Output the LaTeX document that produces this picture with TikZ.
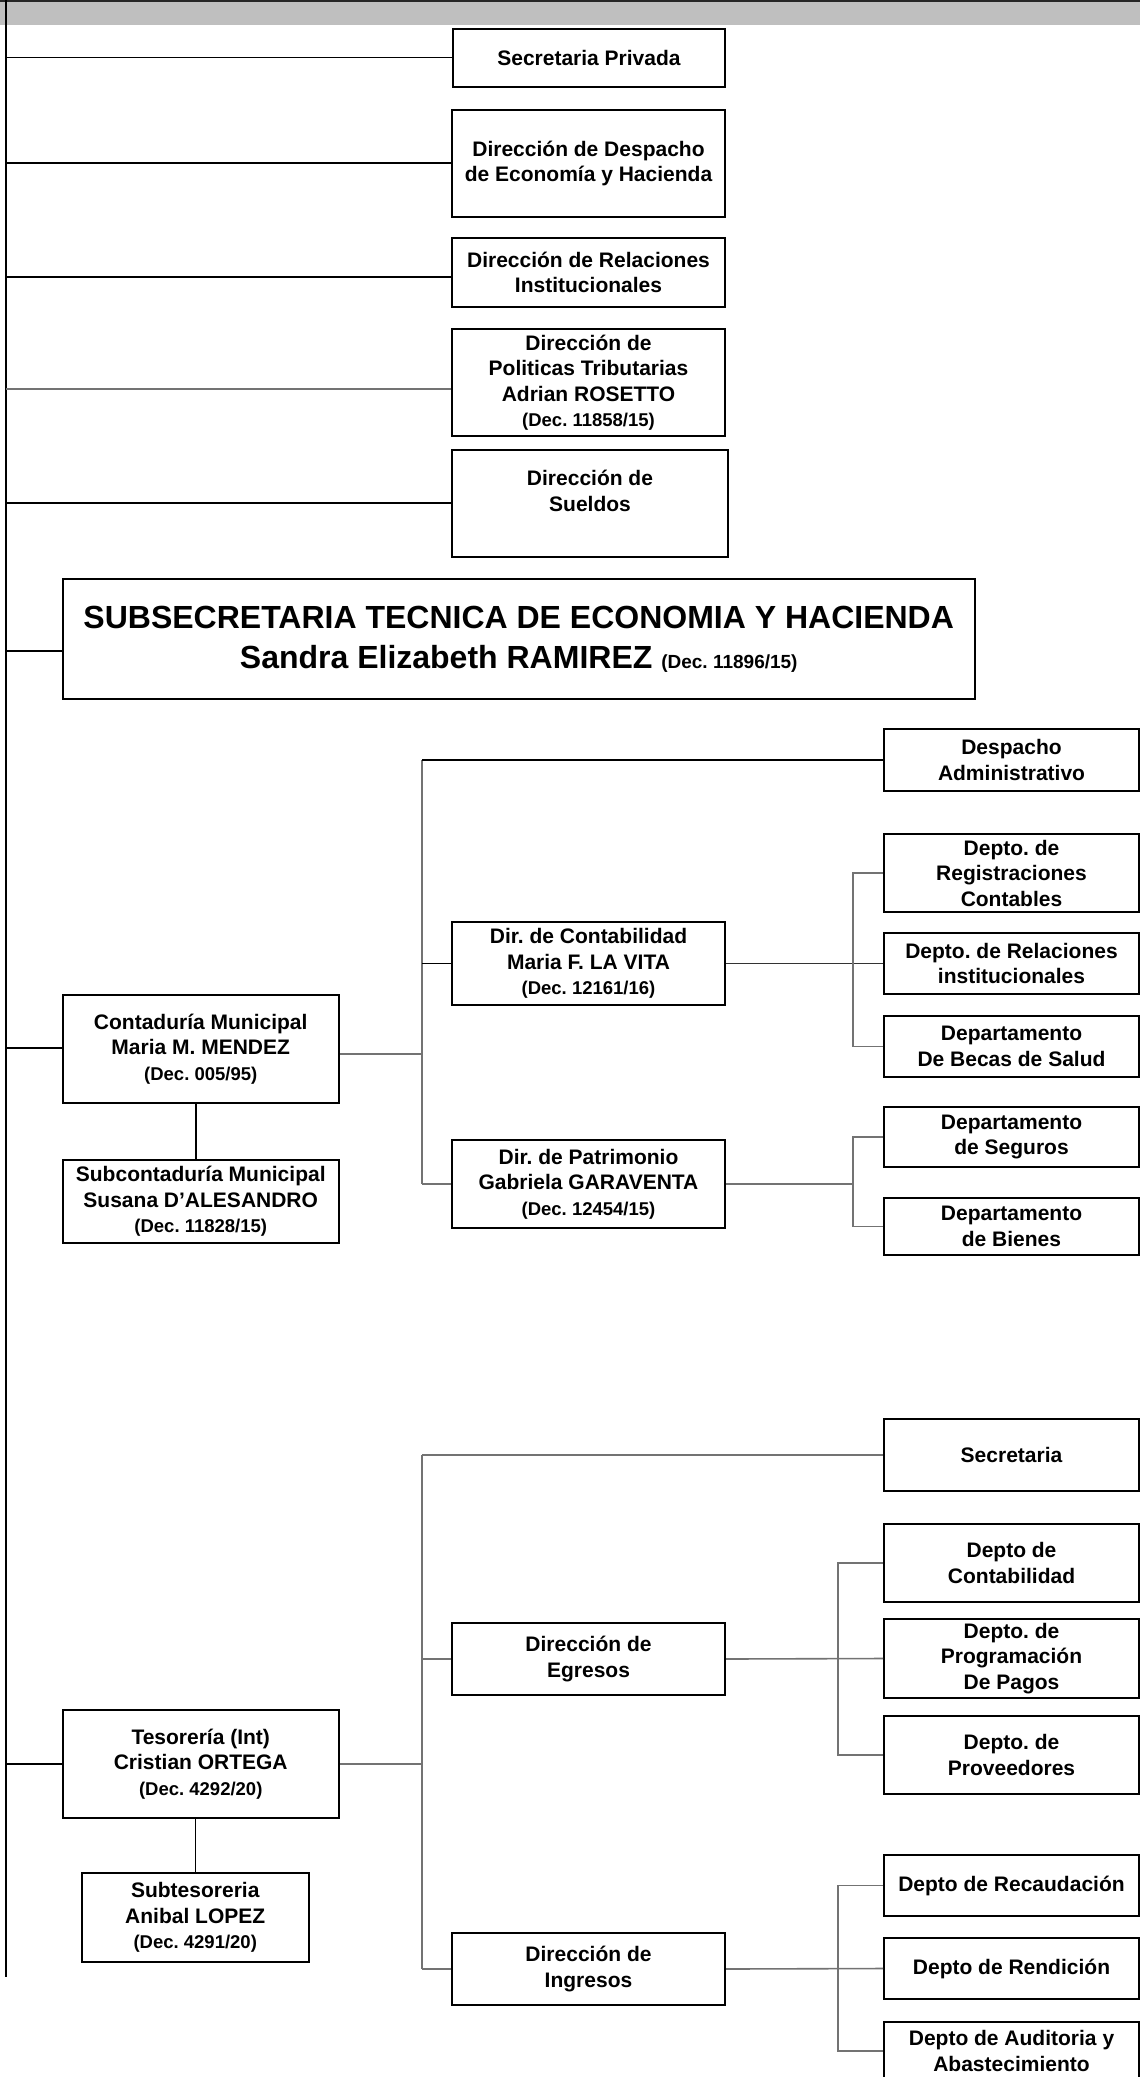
\documentclass[tikz,border=0pt]{standalone}
\usepackage{fontspec}
\setmainfont{Liberation Sans}
\frenchspacing
\newcommand\decr[1]{{\fontsize{18.5}{25.5}\selectfont #1}}
\tikzset{
  box/.style={draw=black, line width=2pt, fill=white, align=center, inner sep=0pt,
    font=\bfseries\fontsize{21}{25.5}\selectfont},
  conn/.style={line width=1.4pt, draw=black},
  gconn/.style={line width=1.6pt, draw=black!55},
}
\begin{document}
\begin{tikzpicture}[x=1pt, y=-1pt]
\clip (0,0) rectangle (1140,2077);
\fill[white] (0,0) rectangle (1140,2077);
% top bar
\fill[black!25] (0,0) rectangle (1140,25);
\draw[line width=2pt, black!85] (0,1) -- (1140,1);

% trunk
\coordinate (ttop) at (6.3,0);
\coordinate (tbot) at (6.3,1977);
\draw[conn, line width=1.7pt] (ttop) -- (tbot);

% top level boxes
\node[box, minimum width=272pt, minimum height=58pt] (sp) at (589,58) {Secretaria Privada};
\node[box, minimum width=273pt, minimum height=107pt] (ddesp) at (588.5,163.5) {Dirección de Despacho\\de Economía y Hacienda};
\node[box, minimum width=273pt, minimum height=69pt] (drelinst) at (588.5,272.5) {Dirección de Relaciones\\Institucionales};
\node[box, minimum width=273pt, minimum height=107pt] (dpol) at (588.5,382.5) {Dirección de\\Politicas Tributarias\\Adrian ROSETTO\\\decr{(Dec. 11858/15)}};
\node[box, minimum width=276pt, minimum height=107pt] (dsuel) at (590,503.5) {Dirección de\\Sueldos\\\mbox{}};
\node[box, minimum width=912.5pt, minimum height=120pt, font=\bfseries\fontsize{32}{40}\selectfont] (subsec) at (518.75,639)
  {SUBSECRETARIA TECNICA DE ECONOMIA Y HACIENDA\\Sandra Elizabeth RAMIREZ {\fontsize{19}{24}\selectfont (Dec. 11896/15)}};

% trunk connection points
\coordinate (t1) at (6.3,57.3);
\coordinate (t2) at (6.3,163);
\coordinate (t3) at (6.3,277);
\coordinate (t4) at (6.3,389);
\coordinate (t5) at (6.3,503);
\coordinate (t6) at (6.3,651);
\coordinate (t7) at (6.3,1048);
\coordinate (t8) at (6.3,1764);
\draw[conn] (t1) -- (t1 -| sp.west);
\draw[conn] (t2) -- (t2 -| ddesp.west);
\draw[conn] (t3) -- (t3 -| drelinst.west);
\draw[gconn] (t4) -- (t4 -| dpol.west);
\draw[conn] (t5) -- (t5 -| dsuel.west);
\draw[conn] (t6) -- (t6 -| subsec.west);

% Contaduria subtree
\node[box, minimum width=276.5pt, minimum height=108pt] (cont) at (200.75,1049) {Contaduría Municipal\\Maria M. MENDEZ\\\decr{(Dec. 005/95)}};
\node[box, minimum width=276.5pt, minimum height=83pt] (subc) at (200.75,1201.5) {Subcontaduría Municipal\\Susana D’ALESANDRO\\\decr{(Dec. 11828/15)}};
\node[box, minimum width=273pt, minimum height=83pt] (dcont) at (588.5,963.5) {Dir. de Contabilidad\\Maria F. LA VITA\\\decr{(Dec. 12161/16)}};
\node[box, minimum width=273pt, minimum height=88.5pt] (dpat) at (588.5,1184) {Dir. de Patrimonio\\Gabriela GARAVENTA\\\decr{(Dec. 12454/15)}};
\node[box, minimum width=255pt, minimum height=62pt] (dadm) at (1011.5,760) {Despacho\\Administrativo};
\node[box, minimum width=255pt, minimum height=78pt] (dreg) at (1011.5,873) {Depto. de\\Registraciones\\Contables};
\node[box, minimum width=255pt, minimum height=61pt] (drel) at (1011.5,963.5) {Depto. de Relaciones\\institucionales};
\node[box, minimum width=255pt, minimum height=61pt] (dbec) at (1011.5,1046.5) {Departamento\\De Becas de Salud};
\node[box, minimum width=255pt, minimum height=60.5pt] (dseg) at (1011.5,1137) {Departamento\\de Seguros};
\node[box, minimum width=255pt, minimum height=57pt] (dbie) at (1011.5,1226.5) {Departamento\\de Bienes};

\draw[conn] (t7) -- (t7 -| cont.west);
\coordinate (cv) at (196,0);
\draw[conn, line width=1.2pt] (cv |- cont.south) -- (cv |- subc.north);
\coordinate (cbt) at (422,760);
\coordinate (cbb) at (422,1184);
\coordinate (cj) at (422,1054);
\draw[gconn] (cbt) -- (cbb);
\draw[gconn] (cj -| cont.east) -- (cj);
\draw[conn] (cbt) -- (cbt -| dadm.west);
\draw[conn] (dcont.west) -- (dcont.west -| cbt);
\draw[gconn] (dpat.west) -- (cbb);
\coordinate (sb1) at (853,0);
\draw[conn, draw=black!80] (dcont.east) -- (drel.west);
\draw[gconn] (dreg.west) -- (dreg.west -| sb1) -- (sb1 |- dbec.west) -- (dbec.west);
\draw[gconn] (dpat.east) -- (dpat.east -| sb1);
\draw[gconn] (dseg.west) -- (dseg.west -| sb1) -- (sb1 |- dbie.west) -- (dbie.west);

% Tesoreria subtree
\node[box, minimum width=276.5pt, minimum height=108pt] (tes) at (200.75,1764) {Tesorería (Int)\\Cristian ORTEGA\\\decr{(Dec. 4292/20)}};
\node[box, minimum width=227.5pt, minimum height=89pt] (subt) at (195.25,1917.5) {Subtesoreria\\Anibal LOPEZ\\\decr{(Dec. 4291/20)}};
\node[box, minimum width=273pt, minimum height=72pt] (degr) at (588.5,1659) {Dirección de\\Egresos};
\node[box, minimum width=273pt, minimum height=72pt] (ding) at (588.5,1969) {Dirección de\\Ingresos};
\node[box, minimum width=255pt, minimum height=72pt] (ssec) at (1011.5,1454.7) {Secretaria};
\node[box, minimum width=255pt, minimum height=78pt] (dcontab) at (1011.5,1563) {Depto de\\Contabilidad};
\node[box, minimum width=255pt, minimum height=79pt] (dprog) at (1011.5,1658.5) {Depto. de\\Programación\\De Pagos};
\node[box, minimum width=255pt, minimum height=78pt] (dprov) at (1011.5,1755) {Depto. de\\Proveedores};
\node[box, minimum width=255pt, minimum height=61pt] (drec) at (1011.5,1885.5) {Depto de Recaudación};
\node[box, minimum width=255pt, minimum height=61pt] (drend) at (1011.5,1968.5) {Depto de Rendición};
\node[box, minimum width=255pt, minimum height=58pt] (daud) at (1011.5,2051) {Depto de Auditoria y\\Abastecimiento};

\draw[conn] (t8) -- (t8 -| tes.west);
\coordinate (tv) at (195.25,0);
\draw[conn, line width=1.2pt] (tv |- tes.south) -- (subt.north);
\coordinate (tbt) at (422,1454.7);
\coordinate (tbb) at (422,1969);
\draw[gconn] (tbt) -- (tbb);
\draw[gconn] (tes.east) -- (tes.east -| tbt);
\draw[gconn] (tbt) -- (ssec.west);
\draw[gconn] (degr.west) -- (degr.west -| tbt);
\draw[gconn] (ding.west) -- (tbb);
\coordinate (sb2) at (838,0);
\draw[gconn] (degr.east) -- (dprog.west);
\draw[gconn] (dcontab.west) -- (dcontab.west -| sb2) -- (sb2 |- dprov.west) -- (dprov.west);
\draw[gconn] (ding.east) -- (drend.west);
\draw[gconn] (drec.west) -- (drec.west -| sb2) -- (sb2 |- daud.west) -- (daud.west);
\end{tikzpicture}
\end{document}
